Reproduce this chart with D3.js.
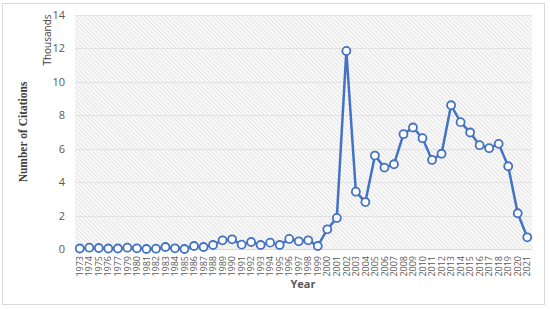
<!DOCTYPE html>
<html>
<head>
<meta charset="utf-8">
<script src="https://cdn.jsdelivr.net/npm/d3@7"></script>
<style>
  body { margin: 0; background: #fff; }
  svg { display: block; }
</style>
</head>
<body>
<svg id="chart" width="550" height="309"></svg>
<script>
// years on the category axis (1978 absent in source)
var years = ["1973","1974","1975","1976","1977","1979","1980","1981","1982","1983",
  "1984","1985","1986","1987","1988","1989","1990","1991","1992","1993",
  "1994","1995","1996","1997","1998","1999","2000","2001","2002","2003",
  "2004","2005","2006","2007","2008","2009","2010","2011","2012","2013",
  "2014","2015","2016","2017","2018","2019","2020","2021"];
// citations, thousands
var citations = [0.03, 0.08, 0.06, 0.03, 0.03, 0.08, 0.04, 0.0, 0.02, 0.12,
  0.04, 0.0, 0.18, 0.12, 0.24, 0.52, 0.58, 0.26, 0.42, 0.24,
  0.38, 0.24, 0.6, 0.46, 0.52, 0.18, 1.18, 1.86, 11.85, 3.43,
  2.81, 5.59, 4.87, 5.07, 6.87, 7.27, 6.63, 5.33, 5.7, 8.6,
  7.59, 6.97, 6.21, 6.03, 6.29, 4.95, 2.14, 0.7];
var yTicks = [0, 2, 4, 6, 8, 10, 12, 14];

var svg = d3.select("#chart");
var margin = {left: 75, right: 18, top: 15, bottom: 60};
var W = 550, H = 309;

// outer chart border
svg.append("rect")
    .attr("x", 2.5).attr("y", 3.5)
    .attr("width", 542).attr("height", 301)
    .attr("fill", "#fff")
    .attr("stroke", "#d9d9d9")
    .attr("stroke-width", 1);

var x = d3.scaleBand()
    .domain(years)
    .range([margin.left, W - margin.right]);
var y = d3.scaleLinear()
    .domain([0, 14])
    .range([H - margin.bottom, margin.top]);

// hatch fill for plot area (lines run top-left to bottom-right)
var defs = svg.append("defs");
var pat = defs.append("pattern")
    .attr("id", "hatch")
    .attr("patternUnits", "userSpaceOnUse")
    .attr("width", 3).attr("height", 3)
    .attr("patternTransform", "rotate(-45)");
pat.append("rect").attr("width", 3).attr("height", 3).attr("fill", "#fafafa");
pat.append("line")
    .attr("x1", 0).attr("y1", 0).attr("x2", 0).attr("y2", 3)
    .attr("stroke", "#d6d6d6").attr("stroke-width", 1.2);

svg.append("rect")
    .attr("x", margin.left).attr("y", margin.top)
    .attr("width", W - margin.right - margin.left)
    .attr("height", H - margin.bottom - margin.top)
    .attr("fill", "url(#hatch)");

// gridlines
svg.append("g")
    .selectAll("line")
    .data(yTicks)
    .join("line")
    .attr("x1", margin.left).attr("x2", W - margin.right)
    .attr("y1", function(d) { return Math.round(y(d)) + 0.5; })
    .attr("y2", function(d) { return Math.round(y(d)) + 0.5; })
    .attr("stroke", "#e2e2e2")
    .attr("stroke-width", 1);

// y axis labels
var yAxis = svg.append("g")
    .attr("transform", "translate(" + margin.left + ",0)")
    .call(d3.axisLeft(y).tickValues(yTicks).tickSize(0).tickPadding(10));
yAxis.select(".domain").remove();
yAxis.selectAll("text")
    .attr("font-family", "'Open Sans', 'Liberation Sans', sans-serif")
    .attr("font-size", 11)
    .attr("fill", "#595959");

// x axis labels
var xAxis = svg.append("g")
    .attr("transform", "translate(0," + y(0) + ")")
    .call(d3.axisBottom(x).tickSize(0).tickPadding(0));
xAxis.select(".domain")
    .attr("stroke", "#d9d9d9");
xAxis.selectAll("text")
    .attr("font-family", "'Open Sans', 'Liberation Sans', sans-serif")
    .attr("font-size", 9)
    .attr("fill", "#595959")
    .attr("text-anchor", "end")
    .attr("dy", "0.35em")
    .attr("transform", "translate(0,7) rotate(-90)")
    .attr("x", 0).attr("y", 0);

// line + markers
var line = d3.line()
    .x(function(d, i) { return x(years[i]) + x.bandwidth() / 2; })
    .y(function(d) { return y(d); });

svg.append("path")
    .datum(citations)
    .attr("d", line)
    .attr("fill", "none")
    .attr("stroke", "#4472C4")
    .attr("stroke-width", 2.5)
    .attr("stroke-linejoin", "round");

svg.append("g")
    .selectAll("circle")
    .data(citations)
    .join("circle")
    .attr("cx", function(d, i) { return x(years[i]) + x.bandwidth() / 2; })
    .attr("cy", function(d) { return y(d); })
    .attr("r", 4)
    .attr("fill", "#fff")
    .attr("stroke", "#4472C4")
    .attr("stroke-width", 1.8);

// titles
svg.append("text")
    .attr("transform", "translate(51,40) rotate(-90)")
    .attr("text-anchor", "middle")
    .attr("font-family", "'Open Sans', 'Liberation Sans', sans-serif")
    .attr("font-size", 10)
    .attr("fill", "#404040")
    .text("Thousands");

svg.append("text")
    .attr("transform", "translate(27,132) rotate(-90)")
    .attr("text-anchor", "middle")
    .attr("font-family", "'Liberation Serif', 'DejaVu Serif', serif")
    .attr("font-weight", "bold")
    .attr("font-size", 11.5)
    .attr("fill", "#404040")
    .text("Number of Citations");

svg.append("text")
    .attr("x", 303).attr("y", 288)
    .attr("text-anchor", "middle")
    .attr("font-family", "'Open Sans', 'Liberation Sans', sans-serif")
    .attr("font-weight", "bold")
    .attr("font-size", 11)
    .attr("fill", "#595959")
    .text("Year");
</script>
</body>
</html>
